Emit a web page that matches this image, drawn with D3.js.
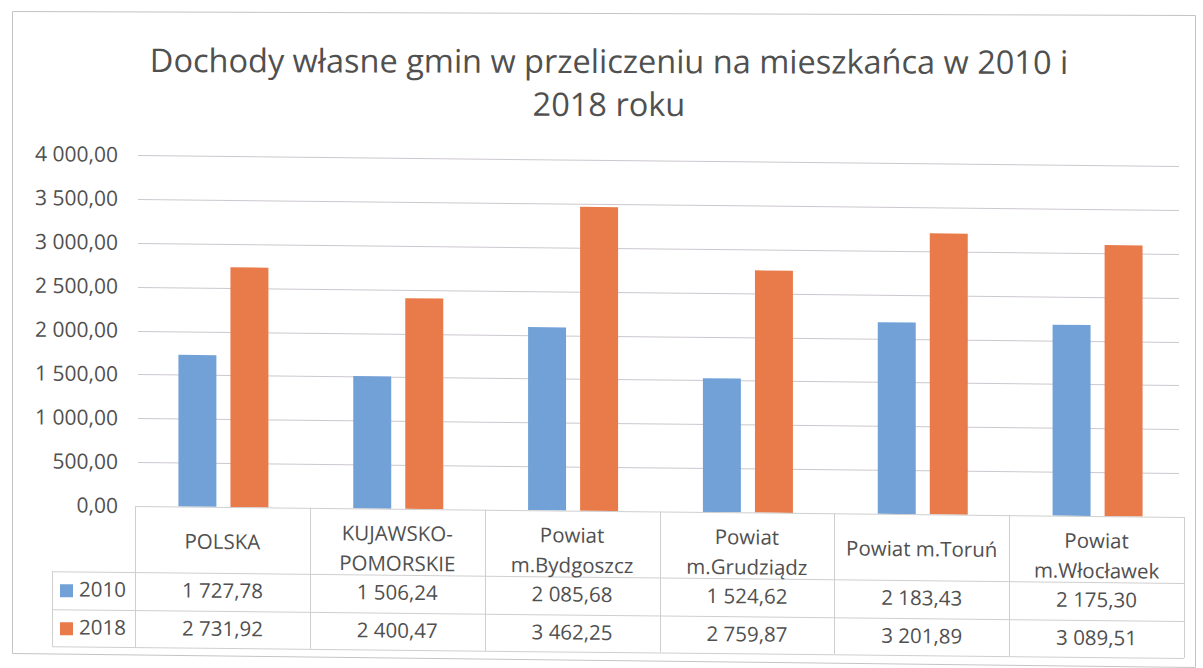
<!DOCTYPE html>
<html>
<head>
<meta charset="utf-8">
<script src="https://cdn.jsdelivr.net/npm/d3@7"></script>
<style>
  html, body { margin: 0; padding: 0; background: #fff; }
  svg { display: block; font-family: "Open Sans", "Noto Sans", sans-serif; }
  .grid line { stroke: #cdc7cf; stroke-width: 1; }
  .tbl line { stroke: #cfcfcf; stroke-width: 1; }
  .txt { fill: #505050; }
</style>
</head>
<body>
<svg id="chart" width="1203" height="668"></svg>
<script>
// dane
const categories = ["POLSKA", "KUJAWSKO-POMORSKIE", "Powiat m.Bydgoszcz", "Powiat m.Grudziądz", "Powiat m.Toruń", "Powiat m.Włocławek"];
const headerLines = [["POLSKA"], ["KUJAWSKO-", "POMORSKIE"], ["Powiat", "m.Bydgoszcz"], ["Powiat", "m.Grudziądz"], ["Powiat m.Toruń"], ["Powiat", "m.Włocławek"]];
const seriesNames = ["2010", "2018"];
const values2010 = [1727.78, 1506.24, 2085.68, 1524.62, 2183.43, 2175.30];
const values2018 = [2731.92, 2400.47, 3462.25, 2759.87, 3201.89, 3089.51];
const yTicks = [0, 500, 1000, 1500, 2000, 2500, 3000, 3500, 4000];
const colors = ["#72a1d7", "#e97a49"];
const title = ["Dochody własne gmin w przeliczeniu na mieszkańca w 2010 i", "2018 roku"];

const svg = d3.select("#chart");
const plot = { left: 135, right: 1184, top: 155, bottom: 506 };
const table = { legendLeft: 52, row1: 572, row2: 610, bottom: 647 };
const FS = 20.5;

const pl = d3.formatLocale({ decimal: ",", thousands: " ", grouping: [3], currency: ["", ""] });
const fmt = pl.format(",.2f");

// ramka wykresu (skan jest lekko krzywy)
svg.append("path")
  .attr("d", "M12.5,11.5 L1195.5,15.5 L1195.5,667.5 L12.5,653.5 Z")
  .attr("fill", "#fff")
  .attr("stroke", "#c4c4c4");

// tytuł
svg.append("text")
  .attr("class", "txt")
  .attr("text-anchor", "middle")
  .attr("font-size", 32.5)
  .attr("transform", "rotate(0.12, 609, 80)")
  .selectAll("tspan")
  .data(title)
  .join("tspan")
  .attr("x", 609)
  .attr("y", (d, i) => 73 + i * 43)
  .text(d => d);

// cała część wykresu z tabelą - lekkie pochylenie jak na skanie
const g = svg.append("g")
  .attr("transform", `translate(${plot.left},0) skewY(0.6) translate(${-plot.left},0)`);

const x = d3.scaleBand().domain(categories).range([plot.left, plot.right]);
const y = d3.scaleLinear().domain([0, 4000]).range([plot.bottom, plot.top]);

// linie siatki
g.append("g").attr("class", "grid")
  .selectAll("line")
  .data(yTicks.slice(1))
  .join("line")
  .attr("x1", plot.left + 3).attr("x2", plot.right - 5)
  .attr("y1", d => Math.round(y(d)) + 0.5)
  .attr("y2", d => Math.round(y(d)) + 0.5);

// oś Y
const yAxis = g.append("g")
  .attr("transform", "translate(118,0)")
  .call(d3.axisLeft(y).tickValues(yTicks).tickFormat(fmt).tickSize(0).tickPadding(0));
yAxis.select(".domain").remove();
yAxis.selectAll("text")
  .attr("class", "txt")
  .attr("font-size", FS + 0.5)
  .attr("font-family", "\"Open Sans\", sans-serif");

// słupki
const x1 = d3.scaleBand().domain(seriesNames).paddingInner(0.27);
const series = [values2010, values2018];
g.append("g")
  .selectAll("g")
  .data(series)
  .join("g")
  .attr("fill", (d, i) => colors[i])
  .selectAll("rect")
  .data((vals, si) => vals.map((v, ci) => ({ v, ci, si })))
  .join("rect")
  .attr("x", d => {
    const c = x(categories[d.ci]) + x.bandwidth() / 2 + 1;
    x1.range([c - 45, c + 45]);
    return x1(seriesNames[d.si]);
  })
  .attr("width", () => x1.bandwidth())
  .attr("y", d => y(d.v))
  .attr("height", d => y(0) - y(d.v));

// tabela danych
const tbl = g.append("g").attr("class", "tbl");
const colEdges = categories.map(c => x(c)).concat([plot.right]);
tbl.append("line").attr("x1", plot.left).attr("x2", plot.right).attr("y1", plot.bottom + 0.5).attr("y2", plot.bottom + 0.5);
[table.row1, table.row2, table.bottom].forEach(yy => {
  tbl.append("line").attr("x1", table.legendLeft).attr("x2", plot.right).attr("y1", yy + 0.5).attr("y2", yy + 0.5);
});
colEdges.forEach(xx => {
  tbl.append("line").attr("x1", Math.round(xx) + 0.5).attr("x2", Math.round(xx) + 0.5).attr("y1", plot.bottom).attr("y2", table.bottom);
});
tbl.append("line").attr("x1", table.legendLeft + 0.5).attr("x2", table.legendLeft + 0.5).attr("y1", table.row1).attr("y2", table.bottom);

// nagłówki kolumn
const head = g.append("g").attr("class", "txt").attr("font-size", FS).attr("text-anchor", "middle");
headerLines.forEach((lines, i) => {
  const cx = x(categories[i]) + x.bandwidth() / 2;
  const t = head.append("text");
  lines.forEach((ln, j) => {
    t.append("tspan")
      .attr("x", cx)
      .attr("y", lines.length === 1 ? 548 : 538 + j * 30)
      .text(ln);
  });
});

// wiersze wartości
const rowBase = [597, 635];
series.forEach((vals, si) => {
  g.append("g").attr("class", "txt").attr("font-size", FS).attr("text-anchor", "middle")
    .selectAll("text")
    .data(vals)
    .join("text")
    .attr("x", (d, i) => x(categories[i]) + x.bandwidth() / 2)
    .attr("y", rowBase[si])
    .text(d => fmt(d));

  // legenda
  g.append("rect")
    .attr("x", 60).attr("y", rowBase[si] - 12)
    .attr("width", 13).attr("height", 13)
    .attr("fill", colors[si]);
  g.append("text")
    .attr("class", "txt")
    .attr("font-size", FS)
    .attr("x", 79).attr("y", rowBase[si])
    .text(seriesNames[si]);
});
</script>
</body>
</html>
